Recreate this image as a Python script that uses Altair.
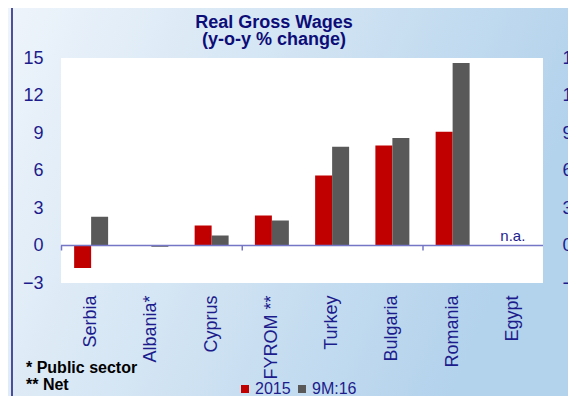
import altair as alt
import pandas as pd

countries = ["Serbia", "Albania*", "Cyprus", "FYROM **", "Turkey", "Bulgaria", "Romania", "Egypt"]
series = ["2015", "9M:16"]
v2015 = [-1.8, 0.0, 1.6, 2.4, 5.6, 8.0, 9.1, None]
v9m16 = [2.3, -0.1, 0.8, 2.0, 7.9, 8.6, 14.6, None]
y_ticks = [-3, 0, 3, 6, 9, 12, 15]
tick_before = ["Serbia", "FYROM **", "Romania"]
colors = ["#C00000", "#595959"]
title_lines = ["Real Gross Wages", "(y-o-y % change)"]
footnotes = ["* Public sector", "** Net"]
na_country = "Egypt"
na_label = "n.a."

rows = []
for c, a, b in zip(countries, v2015, v9m16):
    if a is not None:
        rows.append({"country": c, "series": series[0], "value": a})
    if b is not None:
        rows.append({"country": c, "series": series[1], "value": b})
df = pd.DataFrame(rows)

NAVY = "#1c1c8c"
FONT = "Liberation Sans"
W, H = 482, 225
PL, PT, PR, PB = 53, 50, 25, 113
P_IN, P_OUT = 0.436, 0.218
STEP = W / len(countries)

one = pd.DataFrame({"k": [0]})
yscale = alt.Scale(domain=[-3, 15], nice=False, zero=False)
xscale = alt.Scale(domain=countries, paddingInner=P_IN, paddingOuter=P_OUT)
xaxis = alt.Axis(labelAngle=-90, labelAlign="right", labelBaseline="middle",
                 ticks=False, domain=False, labelPadding=12, labelFontSize=18,
                 labelColor=NAVY, labelFont=FONT, zindex=1, title=None)
zero_px = H * 15 / 18

bg = alt.Chart(one).mark_rect(
    fill=alt.Gradient(
        gradient="linear",
        stops=[alt.GradientStop(color="#eef4fb", offset=0),
               alt.GradientStop(color="#d2e4f3", offset=0.5),
               alt.GradientStop(color="#b3d2ec", offset=1)],
        x1=0, x2=1, y1=0, y2=0.3,
    )
).encode(x=alt.value(-PL), x2=alt.value(W + PR), y=alt.value(-PT), y2=alt.value(H + PB))

border = alt.Chart(one).mark_rule(color="#1a1a7a", strokeWidth=1.5).encode(
    x=alt.value(-49), y=alt.value(-PT), y2=alt.value(H + PB)
)

plotbg = alt.Chart(one).mark_rect(fill="white").encode(
    x=alt.value(0), x2=alt.value(W), y=alt.value(0), y2=alt.value(H)
)

bars = alt.Chart(df).mark_bar().encode(
    x=alt.X("country:N", sort=countries, scale=xscale, axis=xaxis),
    xOffset=alt.XOffset("series:N", sort=series, scale=alt.Scale(paddingInner=0, paddingOuter=0)),
    y=alt.Y("value:Q", scale=yscale, title=None,
            axis=alt.Axis(orient="left", values=y_ticks, grid=False, ticks=False, domain=False,
                          labelPadding=18, labelFontSize=18, labelColor=NAVY, labelFont=FONT,
                          zindex=1)),
    color=alt.Color("series:N", sort=series, scale=alt.Scale(domain=series, range=colors),
                    legend=alt.Legend(title=None, orient="none", direction="horizontal",
                                      legendX=176, legendY=323, symbolType="square",
                                      symbolSize=64, symbolStrokeWidth=0, labelFontSize=16,
                                      labelColor=NAVY, labelFont=FONT, columnPadding=3,
                                      labelOffset=2, padding=0, zindex=1)),
)

zero = alt.Chart(pd.DataFrame({"y": [0]})).mark_rule(color="#7676c6", strokeWidth=1.5).encode(
    y=alt.Y("y:Q", scale=yscale, title=None,
            axis=alt.Axis(orient="right", values=y_ticks, grid=False, ticks=False, domain=False,
                          labelPadding=19, labelFontSize=18, labelColor=NAVY, labelFont=FONT,
                          zindex=1))
)

ticks = alt.Chart(pd.DataFrame({"country": tick_before})).mark_rule(
    color="#7676c6", strokeWidth=1.5, xOffset=-STEP * P_IN / 2 + 0.5
).encode(
    x=alt.X("country:N", sort=countries, scale=xscale, axis=xaxis, bandPosition=0),
    y=alt.value(zero_px),
    y2=alt.value(zero_px + 5),
)

na = alt.Chart(pd.DataFrame({"country": [na_country], "y": [0], "label": [na_label]})).mark_text(
    fontSize=15, color=NAVY, font=FONT, baseline="alphabetic", dy=-5
).encode(
    x=alt.X("country:N", sort=countries, scale=xscale, axis=xaxis),
    y=alt.Y("y:Q", scale=yscale, axis=None),
    text="label:N",
)

title = alt.Chart(one).mark_text(
    text=title_lines, fontSize=18, fontWeight="bold", font=FONT, color="#0d0d78",
    lineHeight=17, align="center", baseline="top"
).encode(x=alt.value(W / 2 - 28), y=alt.value(-44))

notes = alt.Chart(one).mark_text(
    text=footnotes, fontSize=16, fontWeight="bold", font=FONT, color="black",
    lineHeight=17, align="left", baseline="top"
).encode(x=alt.value(-35), y=alt.value(302))

chart = alt.layer(bg, border, plotbg, bars, zero, ticks, na, title, notes).resolve_scale(
    y="shared", x="shared"
).resolve_axis(y="independent").properties(
    width=W, height=H, autosize=alt.AutoSizeParams(type="none"),
    padding={"left": PL, "top": PT, "right": PR, "bottom": PB},
).configure_view(stroke=None)

chart.save("out.html", embed_options={"renderer": "svg", "actions": False})
